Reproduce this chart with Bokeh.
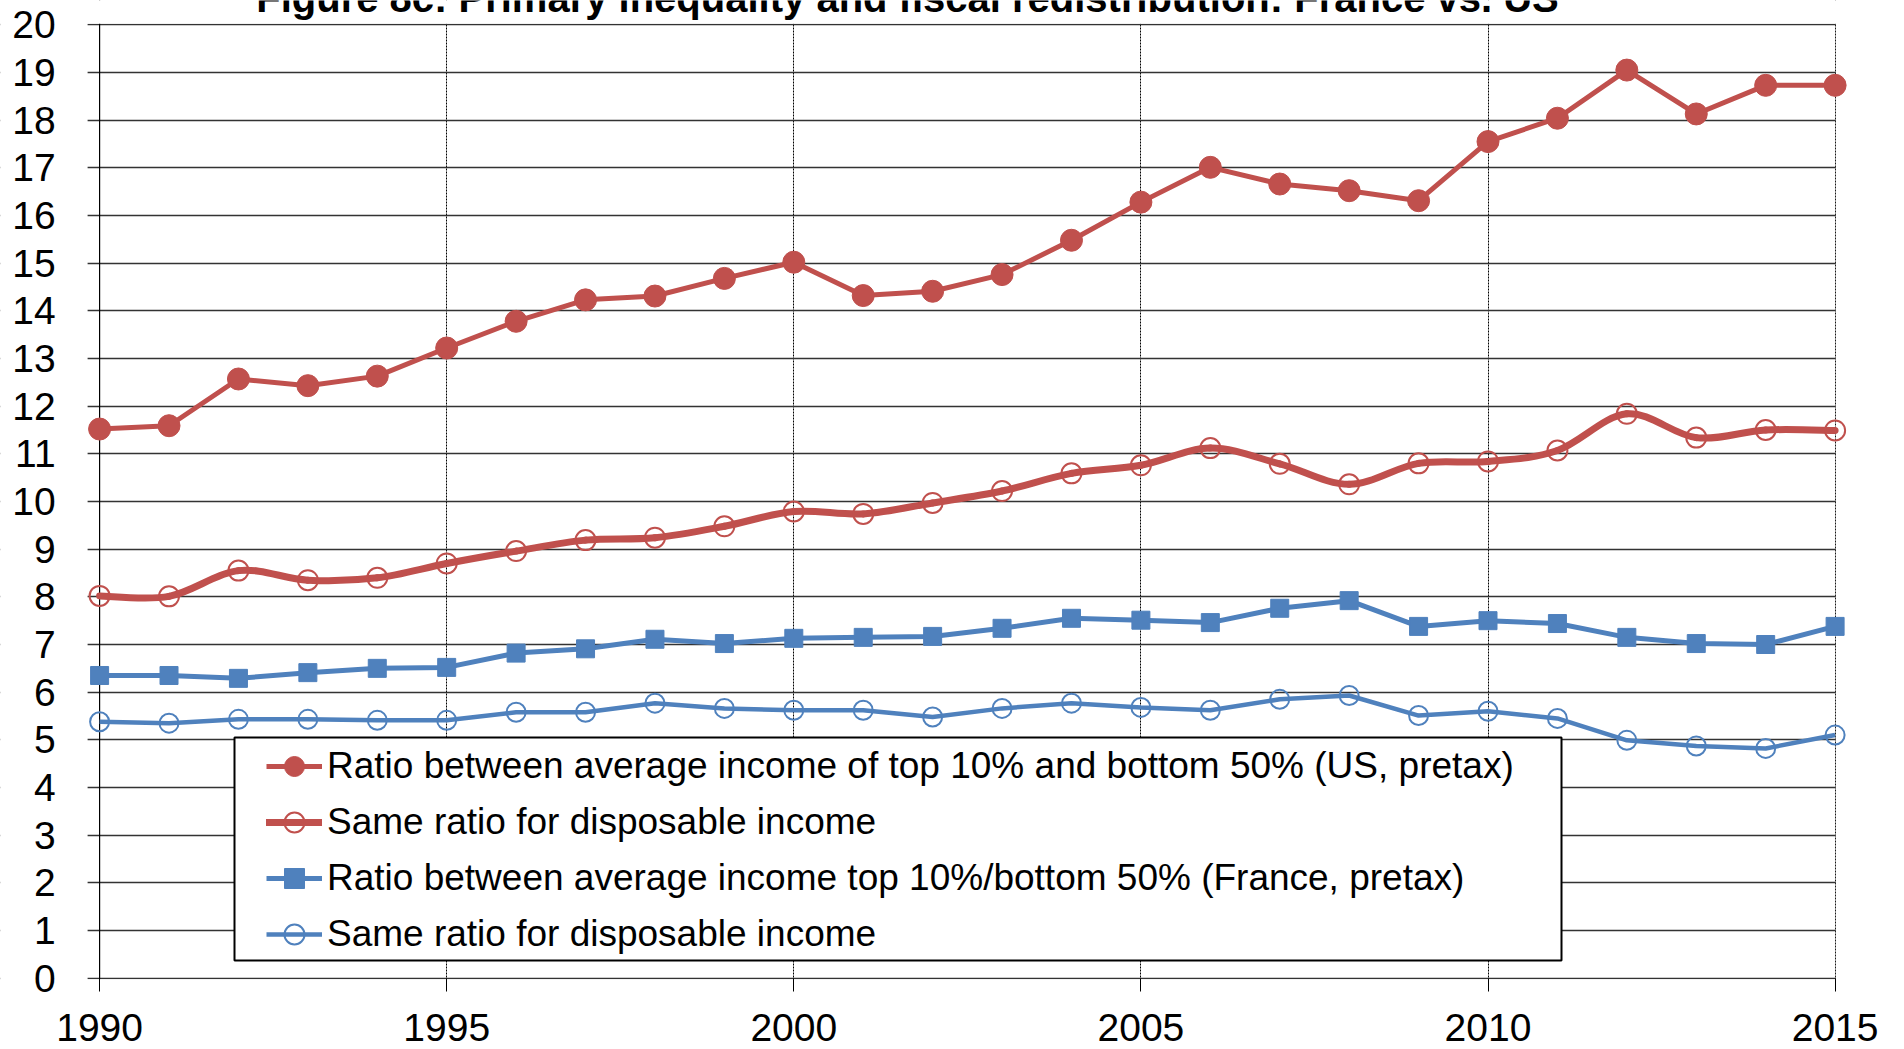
import numpy as np
from bokeh.plotting import figure
from bokeh.models import (Range1d, FixedTicker, Span, Label, Legend, LegendItem,
                          BoxAnnotation, ColumnDataSource)
from bokeh.embed import file_html
from bokeh.resources import INLINE

# ---------------- data ----------------
years = [1990, 1991, 1992, 1993, 1994, 1995, 1996, 1997, 1998, 1999, 2000, 2001, 2002,
         2003, 2004, 2005, 2006, 2007, 2008, 2009, 2010, 2011, 2012, 2013, 2014, 2015]
us_pretax = [11.52, 11.59, 12.57, 12.43, 12.63, 13.22, 13.78, 14.23, 14.31, 14.68, 15.02, 14.32, 14.41,
             14.76, 15.48, 16.28, 17.01, 16.66, 16.52, 16.31, 17.55, 18.04, 19.05, 18.13, 18.73, 18.73]
us_disposable = [8.02, 8.01, 8.55, 8.35, 8.40, 8.70, 8.96, 9.19, 9.24, 9.48, 9.79, 9.74, 9.97,
                 10.22, 10.59, 10.76, 11.12, 10.79, 10.36, 10.80, 10.84, 11.07, 11.84, 11.34, 11.50, 11.49]
fr_pretax = [6.35, 6.35, 6.29, 6.41, 6.50, 6.52, 6.82, 6.91, 7.11, 7.02, 7.13, 7.15, 7.17,
             7.34, 7.55, 7.51, 7.46, 7.76, 7.92, 7.38, 7.50, 7.44, 7.15, 7.02, 7.00, 7.38]
fr_disposable = [5.38, 5.35, 5.43, 5.43, 5.41, 5.41, 5.58, 5.58, 5.77, 5.66, 5.62, 5.62, 5.48,
                 5.66, 5.77, 5.68, 5.62, 5.85, 5.93, 5.51, 5.60, 5.45, 4.99, 4.87, 4.82, 5.10]
x_ticks = [1990, 1995, 2000, 2005, 2010, 2015]
y_ticks = list(range(0, 21))
labels = ["Ratio between average income of top 10% and bottom 50% (US, pretax)",
          "Same ratio for disposable income",
          "Ratio between average income top 10%/bottom 50% (France, pretax)",
          "Same ratio for disposable income"]
title_text = "Figure 8c: Primary inequality and fiscal redistribution: France vs. US"

# ---------------- layout (frame fills the canvas; axes are drawn at fixed locations) ----------------
RED = "#C0504D"
BLUE = "#4F81BD"
FONT = "Liberation Sans"
W, H = 1904, 1049
PX_PER_YEAR = 69.42
PX_PER_UNIT = 47.67
X0_PX, Y20_PX = 99.1, 24.3            # pixel position of first year / top value
X_START = x_ticks[0] - X0_PX / PX_PER_YEAR
X_END = X_START + W / PX_PER_YEAR
Y_TOP = y_ticks[-1] + Y20_PX / PX_PER_UNIT
Y_BOTTOM = Y_TOP - H / PX_PER_UNIT
STUB = 12 / PX_PER_YEAR                # grid lines stick out left of the y axis like ticks

def px_to_x(px):
    return X_START + px / PX_PER_YEAR

def py_to_y(py):
    return Y_TOP - py / PX_PER_UNIT

p = figure(width=W, height=H,
           x_range=Range1d(X_START, X_END), y_range=Range1d(Y_BOTTOM, Y_TOP),
           output_backend="svg", toolbar_location=None,
           min_border_left=0, min_border_right=0, min_border_top=0, min_border_bottom=0)
p.outline_line_color = None
p.background_fill_color = "white"

# x axis at y = 0
p.xaxis.fixed_location = 0
p.xaxis.ticker = FixedTicker(ticks=x_ticks)
p.xaxis.axis_line_color = None
p.xaxis.major_tick_out = 13
p.xaxis.major_tick_in = 0
p.xaxis.major_tick_line_color = "black"
p.xaxis.minor_tick_line_color = None
p.xaxis.major_label_standoff = 23
p.xaxis.major_label_text_font = FONT
p.xaxis.major_label_text_font_size = "39px"
p.xaxis.major_label_text_color = "black"

# y axis labels left of the grid stubs
p.yaxis.fixed_location = x_ticks[0] - STUB
p.yaxis.ticker = FixedTicker(ticks=y_ticks)
p.yaxis.axis_line_color = None
p.yaxis.major_tick_line_color = None
p.yaxis.minor_tick_line_color = None
p.yaxis.major_label_standoff = 26
p.yaxis.major_label_text_font = FONT
p.yaxis.major_label_text_font_size = "39px"
p.yaxis.major_label_text_color = "black"

# grids
p.ygrid.ticker = FixedTicker(ticks=y_ticks)
p.ygrid.grid_line_color = "#333333"
p.ygrid.grid_line_width = 1.5
p.xgrid.ticker = FixedTicker(ticks=x_ticks[1:])
p.xgrid.grid_line_color = "black"
p.xgrid.grid_line_width = 1
p.xgrid.grid_line_dash = "2 1"

# y axis line at the first year
p.add_layout(Span(location=x_ticks[0], dimension="height", line_color="black", line_width=1.2,
                  level="underlay"))

# white covers trimming grid lines to the plot area
for kw in (dict(left=x_ticks[-1] + 0.8 / PX_PER_YEAR),
           dict(right=x_ticks[0] - STUB),
           dict(top=y_ticks[0] - 1.0 / PX_PER_UNIT),
           dict(bottom=y_ticks[-1] + 1.0 / PX_PER_UNIT)):
    p.add_layout(BoxAnnotation(fill_color="white", fill_alpha=1, line_alpha=0, level="underlay", **kw))

# ---------------- series ----------------
src = ColumnDataSource(dict(x=years, usp=us_pretax, usd=us_disposable, frp=fr_pretax, frd=fr_disposable))

# smoothed line for US disposable (Excel-like smoothing via Catmull-Rom -> Bezier)
xs = np.array(years, dtype=float)
ys = np.array(us_disposable, dtype=float)
n = len(xs)
prev_i = np.clip(np.arange(n - 1) - 1, 0, n - 1)
next_i = np.clip(np.arange(n - 1) + 2, 0, n - 1)
i0 = np.arange(n - 1)
i1 = i0 + 1
bez = ColumnDataSource(dict(
    x0=xs[i0], y0=ys[i0], x1=xs[i1], y1=ys[i1],
    cx0=xs[i0] + (xs[i1] - xs[prev_i]) / 6, cy0=ys[i0] + (ys[i1] - ys[prev_i]) / 6,
    cx1=xs[i1] - (xs[next_i] - xs[i0]) / 6, cy1=ys[i1] - (ys[next_i] - ys[i0]) / 6))

r_usd_line = p.bezier(x0="x0", y0="y0", x1="x1", y1="y1", cx0="cx0", cy0="cy0", cx1="cx1", cy1="cy1",
                      source=bez, line_color=RED, line_width=7, line_cap="round")
r_usd_pts = p.scatter("x", "usd", source=src, marker="circle", size=20, fill_alpha=0,
                      line_color=RED, line_width=2)

r_usp_line = p.line("x", "usp", source=src, line_color=RED, line_width=5)
r_usp_pts = p.scatter("x", "usp", source=src, marker="circle", size=22, fill_color=RED, line_color=RED)

r_frp_line = p.line("x", "frp", source=src, line_color=BLUE, line_width=5)
r_frp_pts = p.scatter("x", "frp", source=src, marker="square", size=18, fill_color=BLUE, line_color=BLUE)

r_frd_line = p.line("x", "frd", source=src, line_color=BLUE, line_width=4.5)
r_frd_pts = p.scatter("x", "frd", source=src, marker="circle", size=19, fill_alpha=0,
                      line_color=BLUE, line_width=2)

# ---------------- legend ----------------
legend_box = BoxAnnotation(left=px_to_x(234), right=px_to_x(1561), top=py_to_y(737), bottom=py_to_y(960),
                           fill_color="white", fill_alpha=1, line_color="black", line_alpha=1,
                           line_width=2)
p.add_layout(legend_box)

legend = Legend(items=[
    LegendItem(label=labels[0], renderers=[r_usp_line, r_usp_pts]),
    LegendItem(label=labels[1], renderers=[r_usd_line, r_usd_pts]),
    LegendItem(label=labels[2], renderers=[r_frp_line, r_frp_pts]),
    LegendItem(label=labels[3], renderers=[r_frd_line, r_frd_pts]),
], location=(266, H - 959), orientation="vertical", margin=0, padding=3,
    glyph_width=56, glyph_height=50, label_height=50, spacing=6, label_standoff=5,
    border_line_color=None, background_fill_alpha=0,
    label_text_font=FONT, label_text_font_size="37px", label_text_color="black")
p.add_layout(legend, "center")

# ---------------- title (cut off at top as in the original) ----------------
title = Label(x=px_to_x(907), y=py_to_y(-3), text=title_text, text_align="center",
              text_baseline="alphabetic", text_font=FONT, text_font_size="40px",
              text_font_style="bold", text_color="black")
p.add_layout(title)

open("out.html", "w").write(file_html(p, INLINE))
